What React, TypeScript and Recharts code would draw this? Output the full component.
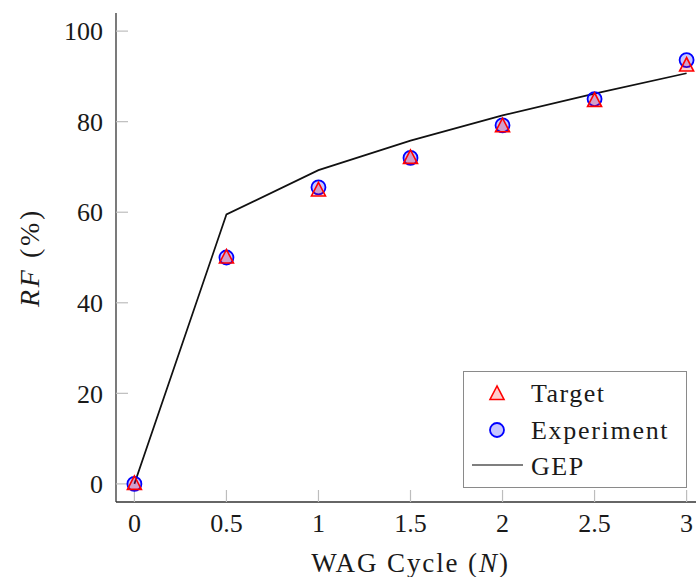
import React from 'react';
import { ComposedChart, Line, Scatter, XAxis, YAxis, Legend, Label } from 'recharts';

const cycles = [0, 0.5, 1, 1.5, 2, 2.5, 3];
const targetRF = [0, 50, 64.8, 72, 79, 84.6, 92.4];
const experimentRF = [0, 50, 65.5, 72, 79.2, 85, 93.6];
const gepRF = [0, 59.5, 69.3, 75.8, 81.4, 86.2, 90.7];
const xTicks = [0, 0.5, 1, 1.5, 2, 2.5, 3];
const yTicks = [0, 20, 40, 60, 80, 100];
const seriesNames = ['Target', 'Experiment', 'GEP'];

const data = cycles.map((x, i) => ({
  x,
  target: targetRF[i],
  experiment: experimentRF[i],
  gep: gepRF[i],
}));

const FONT = 'Liberation Serif, DejaVu Serif, serif';
const TEXT = '#1a1a1a';
const AXIS = '#333333';
const TICK = '#bdbdbd';
const RED = '#ff0000';
const BLUE = '#0000ff';

const Triangle = (props: any) => {
  const { cx, cy } = props;
  if (cx == null || cy == null) return null;
  const pts = `${cx},${cy - 8} ${cx - 7},${cy + 5.5} ${cx + 7},${cy + 5.5}`;
  return <polygon points={pts} fill="rgba(255,0,0,0.2)" stroke={RED} strokeWidth={1.6} />;
};

const CircleMark = (props: any) => {
  const { cx, cy } = props;
  if (cx == null || cy == null) return null;
  return <circle cx={cx} cy={cy} r={7} fill="rgba(0,0,255,0.22)" stroke={BLUE} strokeWidth={1.8} />;
};

const txt = (ls: number, size = 26) => ({ fontFamily: FONT, fontSize: size, fill: TEXT, letterSpacing: ls });

const LegendBox = () => (
  <svg width={225} height={118} style={{ display: 'block' }}>
    <rect x={0.5} y={0.5} width={223} height={116} fill="#fff" stroke="#8a8a8a" strokeWidth={1} />
    <Triangle cx={34} cy={23} />
    <text x={68} y={31} style={txt(1.5)}>{seriesNames[0]}</text>
    <CircleMark cx={34} cy={59} />
    <text x={68} y={68} style={txt(1.7)}>{seriesNames[1]}</text>
    <line x1={9} y1={94} x2={60} y2={94} stroke="#555" strokeWidth={1.3} />
    <text x={68} y={104} style={txt(1.5)}>{seriesNames[2]}</text>
  </svg>
);

const XTitle = (props: any) => {
  const vb = props.viewBox || {};
  const cx = vb.x + vb.width / 2;
  return (
    <text x={cx} y={vb.y + 70} textAnchor="middle" style={txt(1.9, 27)}>
      WAG Cycle (<tspan fontStyle="italic">N</tspan>)
    </text>
  );
};

const YTitle = (props: any) => {
  const vb = props.viewBox || {};
  const cy = vb.y + vb.height / 2;
  const cx = vb.x - 17;
  return (
    <text x={cx} y={cy} transform={`rotate(-90, ${cx}, ${cy})`} textAnchor="middle" style={txt(2.6, 28)}>
      <tspan fontStyle="italic">RF</tspan> (%)
    </text>
  );
};

export default function App() {
  const tickStyle = { fill: TEXT, fontSize: 26, fontFamily: FONT, style: { fontFamily: FONT } };
  return (
    <div style={{ position: 'absolute', left: 0, top: 0, width: 696, height: 577, overflow: 'hidden', background: '#fff', fontFamily: FONT }}>
      <ComposedChart width={720} height={577} data={data} margin={{ top: 13, right: 15, bottom: 35, left: 56 }}>
        <XAxis
          dataKey="x"
          type="number"
          domain={[-0.1, 3.1]}
          ticks={xTicks}
          interval={0}
          allowDataOverflow
          height={40}
          tickSize={-12}
          tickMargin={24}
          tickLine={{ stroke: TICK, strokeWidth: 1.2 }}
          axisLine={{ stroke: AXIS, strokeWidth: 1.3 }}
          tick={tickStyle}
        >
          <Label content={<XTitle />} />
        </XAxis>
        <XAxis
          xAxisId="top"
          dataKey="x"
          type="number"
          orientation="top"
          domain={[-0.1, 3.1]}
          ticks={xTicks}
          interval={0}
          allowDataOverflow
          height={0}
          tickSize={-12}
          tick={false}
          tickLine={{ stroke: TICK, strokeWidth: 1.2 }}
          axisLine={{ stroke: AXIS, strokeWidth: 1.3 }}
        />
        <YAxis
          type="number"
          domain={[-4, 104]}
          ticks={yTicks}
          interval={0}
          allowDataOverflow
          width={60}
          tickSize={-12}
          tickMargin={25}
          tickLine={{ stroke: TICK, strokeWidth: 1.2 }}
          axisLine={{ stroke: AXIS, strokeWidth: 1.3 }}
          tick={tickStyle}
        >
          <Label content={<YTitle />} />
        </YAxis>
        <YAxis
          yAxisId="right"
          orientation="right"
          type="number"
          domain={[-4, 104]}
          ticks={yTicks}
          interval={0}
          allowDataOverflow
          width={0}
          tickSize={-12}
          tick={false}
          tickLine={{ stroke: TICK, strokeWidth: 1.2 }}
          axisLine={{ stroke: AXIS, strokeWidth: 1.3 }}
        />
        <Line
          dataKey="gep"
          name={seriesNames[2]}
          type="linear"
          stroke="#111"
          strokeWidth={1.7}
          dot={false}
          activeDot={false}
          isAnimationActive={false}
        />
        <Scatter dataKey="experiment" name={seriesNames[1]} shape={<CircleMark />} isAnimationActive={false} />
        <Scatter dataKey="target" name={seriesNames[0]} shape={<Triangle />} isAnimationActive={false} />
        <Legend
          layout="vertical"
          align="center"
          verticalAlign="middle"
          content={<LegendBox />}
          wrapperStyle={{ left: 463, top: 371, width: 225, height: 118 }}
        />
      </ComposedChart>
    </div>
  );
}
